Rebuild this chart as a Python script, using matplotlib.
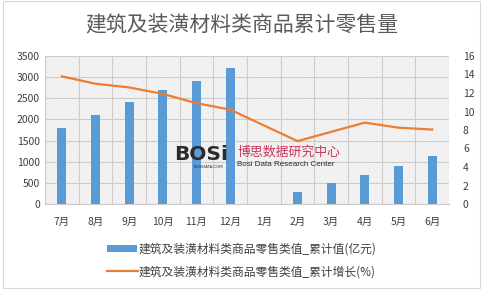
import matplotlib
matplotlib.use("Agg")
import matplotlib.pyplot as plt
from matplotlib.patches import Rectangle
import numpy as np

plt.rcParams['font.family'] = ['Noto Sans CJK SC', 'DejaVu Sans']
plt.rcParams['hatch.color'] = '#e2e2e2'
plt.rcParams['hatch.linewidth'] = 0.5

months = ['7月', '8月', '9月', '10月', '11月', '12月', '1月', '2月', '3月', '4月', '5月', '6月']
values = [1800, 2110, 2420, 2700, 2910, 3220, np.nan, 290, 505, 690, 900, 1140]
growth = [13.8, 13.0, 12.6, 11.9, 10.9, 10.2, np.nan, 6.8, 7.8, 8.8, 8.25, 8.05]
left_ticks = [0, 500, 1000, 1500, 2000, 2500, 3000, 3500]
right_ticks = [0, 2, 4, 6, 8, 10, 12, 14, 16]

bar_label = '建筑及装潢材料类商品零售类值_累计值(亿元)'
line_label = '建筑及装潢材料类商品零售类值_累计增长(%)'
title = '建筑及装潢材料类商品累计零售量'

fig = plt.figure(figsize=(4.83, 2.91), dpi=100)
fig.patch.set_facecolor('white')
fig.add_artist(Rectangle((0.006, 0.01), 0.988, 0.985, transform=fig.transFigure,
                         fill=False, edgecolor='#d9d9d9', linewidth=0.8))

ax = fig.add_axes([45 / 483, 1 - 204 / 291, 404 / 483, 148 / 291])
ax.patch.set_facecolor('white')
ax.patch.set_hatch('\\' * 16)
ax.patch.set_edgecolor('#e2e2e2')

x = np.arange(len(months))
b = ax.bar(x, values, width=0.27, color='#5B9BD5', zorder=3, label=bar_label)
ax.set_xlim(-0.5, len(months) - 0.5)
ax.set_ylim(0, 3500)
ax.set_yticks(left_ticks)
ax.set_xticks(x)
ax.set_xticklabels(months)
ax.set_xticks(np.arange(-0.5, len(months), 1), minor=True)
ax.grid(True, which='major', axis='y', color='#cccccc', linewidth=0.8, zorder=1)
ax.grid(True, which='minor', axis='x', color='#cccccc', linewidth=0.8, zorder=1)
ax.tick_params(which='both', length=0)
ax.tick_params(axis='both', labelsize=7.5, labelcolor='#404040')
ax.tick_params(axis='x', pad=9)
for s in ax.spines.values():
    s.set_visible(False)
ax.spines['bottom'].set_visible(True)
ax.spines['bottom'].set_color('#cccccc')

ax2 = ax.twinx()
mask = ~np.isnan(growth)
l, = ax2.plot(x[mask], np.array(growth)[mask],
              color='#ED7D31', linewidth=1.6, zorder=4, label=line_label)
ax2.set_ylim(0, 16)
ax2.set_yticks(right_ticks)
ax2.tick_params(length=0, labelsize=7.5, labelcolor='#404040', pad=10)
for s in ax2.spines.values():
    s.set_visible(False)

fig.text(0.5, 1 - 25 / 291, title, ha='center', va='center', fontsize=15, color='#595959')

# watermark
fig.text(174 / 483, 1 - 160 / 291, 'BOSi', fontsize=14.5, fontweight='bold', color='#2b2b2b',
         ha='left', va='baseline', family=['DejaVu Sans'], zorder=10)
fig.text(194 / 483, 1 - 167.5 / 291, 'BOSIDATA.COM', fontsize=2.8, color='#2b2b2b',
         ha='left', va='center', family=['DejaVu Sans'], zorder=10)
fig.text(237 / 483, 1 - 152 / 291, '博思数据研究中心', fontsize=9.3, color='#c8385a',
         ha='left', va='center', zorder=10)
fig.text(237 / 483, 1 - 165 / 291, 'Bosi Data Research Center', fontsize=5.8, color='#2b2b2b',
         ha='left', va='center', family=['Liberation Sans', 'DejaVu Sans'], zorder=10)

fig.legend(handles=[b], labels=[bar_label], loc='center', bbox_to_anchor=(0.5, 1 - 249 / 291),
           frameon=False, fontsize=8.5, handlelength=2.6, handleheight=0.5, handletextpad=0.1,
           labelcolor='#404040')
fig.legend(handles=[l], labels=[line_label], loc='center', bbox_to_anchor=(0.5, 1 - 272 / 291),
           frameon=False, fontsize=8.5, handlelength=2.6, handletextpad=0.1, labelcolor='#404040')

fig.savefig('out.png', dpi=100)
